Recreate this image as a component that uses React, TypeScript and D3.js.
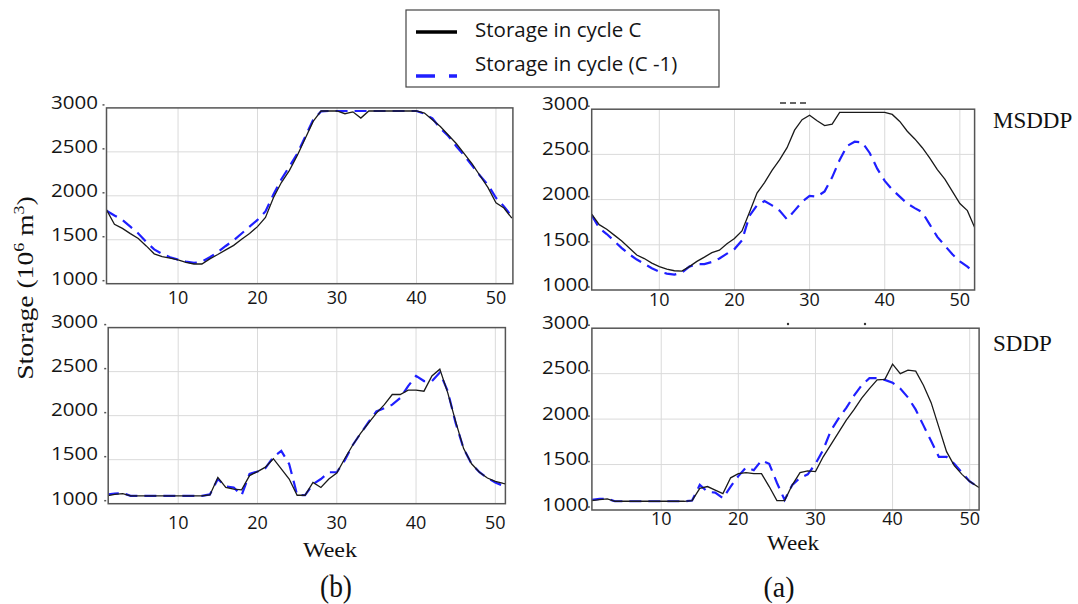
import React from "react";
import * as d3 from "d3";

// weeks of the year on the x axis
const weeks = d3.range(1, 53);
const yTickValues = [1000, 1500, 2000, 2500, 3000];
const xTickValues = [10, 20, 30, 40, 50];
const seriesNames = ["Storage in cycle C", "Storage in cycle (C -1)"];

// (b) MSDDP
const bMsddpCycle = [
  1840, 1676, 1629, 1570, 1514, 1430, 1340, 1309, 1290, 1270,
  1243, 1224, 1224, 1282, 1332, 1385, 1436, 1505, 1571, 1649,
  1753, 1977, 2151, 2286, 2459, 2653, 2846, 2965, 2965, 2965,
  2934, 2955, 2884, 2965, 2965, 2965, 2965, 2965, 2965, 2965,
  2942, 2865, 2788, 2691, 2595, 2479, 2363, 2228, 2093, 1919,
  1861, 1745,
];
const bMsddpPrev = [
  1830, 1776, 1726, 1649, 1571, 1475, 1390, 1340, 1301, 1274,
  1251, 1236, 1251, 1301, 1359, 1429, 1494, 1571, 1649, 1726,
  1822, 2015, 2189, 2332, 2479, 2672, 2865, 2961, 2965, 2965,
  2965, 2965, 2965, 2965, 2965, 2965, 2965, 2965, 2965, 2965,
  2934, 2880, 2768, 2680, 2564, 2459, 2344, 2228, 2124, 1977,
  1880, 1764,
];

// (a) MSDDP
const aMsddpCycle = [
  1840, 1723, 1673, 1607, 1542, 1464, 1387, 1348, 1298, 1259,
  1232, 1213, 1209, 1259, 1317, 1364, 1414, 1441, 1511, 1569,
  1654, 1859, 2072, 2188, 2323, 2439, 2574, 2768, 2884, 2934,
  2872, 2818, 2834, 2965, 2965, 2965, 2965, 2965, 2965, 2965,
  2942, 2865, 2756, 2671, 2574, 2458, 2331, 2226, 2091, 1956,
  1878, 1685,
];
const aMsddpPrev = [
  1828, 1685, 1619, 1542, 1464, 1395, 1337, 1290, 1240, 1201,
  1182, 1170, 1193, 1259, 1286, 1286, 1310, 1348, 1402, 1453,
  1549, 1820, 1936, 1983, 1936, 1878, 1781, 1878, 1975, 2041,
  2033, 2091, 2246, 2439, 2594, 2640, 2632, 2516, 2342, 2207,
  2110, 2033, 1956, 1906, 1859, 1723, 1588, 1491, 1395, 1317,
  1259, 1182,
];

// (b) SDDP
const bSddpCycle = [
  1090, 1105, 1115, 1090, 1090, 1090, 1090, 1090, 1090, 1090,
  1090, 1090, 1090, 1100, 1299, 1184, 1165, 1157, 1319, 1365,
  1415, 1511, 1395, 1280, 1096, 1096, 1242, 1184, 1280, 1349,
  1511, 1664, 1798, 1914, 2029, 2125, 2240, 2240, 2290, 2290,
  2278, 2451, 2528, 2259, 1933, 1626, 1453, 1357, 1292, 1253,
  1230, 1211,
];
const bSddpPrev = [
  1105, 1115, 1120, 1090, 1090, 1090, 1090, 1090, 1090, 1090,
  1090, 1090, 1090, 1105, 1280, 1196, 1184, 1096, 1338, 1365,
  1403, 1530, 1600, 1450, 1100, 1096, 1223, 1280, 1357, 1357,
  1492, 1664, 1798, 1925, 2048, 2086, 2125, 2200, 2336, 2451,
  2393, 2393, 2489, 2278, 1914, 1626, 1453, 1357, 1292, 1242,
  1203, 1173,
];

// (a) SDDP
const aSddpCycle = [
  1104, 1115, 1123, 1096, 1096, 1096, 1096, 1096, 1096, 1096,
  1096, 1096, 1096, 1104, 1238, 1258, 1219, 1181, 1354, 1400,
  1412, 1400, 1400, 1258, 1104, 1104, 1277, 1412, 1431, 1423,
  1585, 1719, 1854, 1988, 2104, 2231, 2335, 2431, 2438, 2604,
  2500, 2538, 2527, 2373, 2181, 1912, 1642, 1488, 1392, 1315,
  1258, 1208,
];
const aSddpPrev = [
  1112, 1123, 1123, 1096, 1096, 1096, 1096, 1096, 1096, 1096,
  1096, 1096, 1096, 1104, 1277, 1200, 1192, 1131, 1258, 1373,
  1469, 1438, 1546, 1508, 1300, 1110, 1277, 1354, 1392, 1508,
  1662, 1873, 2008, 2123, 2258, 2373, 2450, 2450, 2431, 2400,
  2335, 2238, 2104, 1931, 1758, 1585, 1585, 1508, 1412, 1315,
  1258, 1208,
];

const panels = [
  { id: "bm", cycle: bMsddpCycle, prev: bMsddpPrev, xDomain: [1, 52.13], xRange: [106.5, 512.9], yRange: [283.7, 107.9], labelRight: 98, xLabelY: 304 },
  { id: "am", cycle: aMsddpCycle, prev: aMsddpPrev, xDomain: [1, 51.96], xRange: [591.7, 974.6], yRange: [290, 109.2], labelRight: 589, xLabelY: 306 },
  { id: "bs", cycle: bSddpCycle, prev: bSddpPrev, xDomain: [1.17, 51.27], xRange: [108.2, 505.4], yRange: [503.7, 327.6], labelRight: 98, xLabelY: 529 },
  { id: "as", cycle: aSddpCycle, prev: aSddpPrev, xDomain: [1.01, 51.22], xRange: [591.9, 979.1], yRange: [510, 328.2], labelRight: 589, xLabelY: 525 },
];

const tickFont = "'Open Sans', sans-serif";
const serif = "'Liberation Serif', 'Times New Roman', serif";

function Panel({ p }) {
  const x = d3.scaleLinear().domain(p.xDomain).range(p.xRange);
  const y = d3.scaleLinear().domain([1000, 3000]).range(p.yRange);
  const line = d3
    .line<number>()
    .x((_, i) => x(weeks[i]))
    .y((v) => y(v));
  const [x0, x1] = p.xRange;
  const [yb, yt] = p.yRange;

  return (
    <g>
      <defs>
        <clipPath id={`clip-${p.id}`}>
          <rect x={x0} y={yt} width={x1 - x0} height={yb - yt} />
        </clipPath>
      </defs>
      {/* grid */}
      {xTickValues.map((t) => (
        <line key={`gx${t}`} x1={x(t)} x2={x(t)} y1={yt} y2={yb} stroke="#dadada" strokeWidth={1} />
      ))}
      {yTickValues.slice(1, -1).map((t) => (
        <line key={`gy${t}`} x1={x0} x2={x1} y1={y(t)} y2={y(t)} stroke="#dadada" strokeWidth={1} />
      ))}
      <g clipPath={`url(#clip-${p.id})`}>
        <path d={line(p.prev) || ""} fill="none" stroke="#1f1fff" strokeWidth={2.2} strokeDasharray="12,7" />
        <path d={line(p.cycle) || ""} fill="none" stroke="#1a1a1a" strokeWidth={1.3} />
      </g>
      <rect x={x0} y={yt} width={x1 - x0} height={yb - yt} fill="none" stroke="#555" strokeWidth={1.5} />
      {/* y ticks */}
      {yTickValues.map((t) => (
        <g key={`ty${t}`}>
          <line x1={x0 - 4} x2={x0 - 2} y1={y(t) - 3} y2={y(t) - 3} stroke="#555" strokeWidth={1.5} />
          <text
            x={p.labelRight}
            y={y(t) - 4}
            textAnchor="end"
            dominantBaseline="middle"
            fontFamily={tickFont}
            fontSize={18}
            fill="#151515"
            textLength={47}
            lengthAdjust="spacingAndGlyphs"
          >
            {t}
          </text>
        </g>
      ))}
      {/* x ticks */}
      {xTickValues.map((t) => (
        <text
          key={`tx${t}`}
          x={x(t)}
          y={p.xLabelY}
          textAnchor="middle"
          fontFamily={tickFont}
          fontSize={18}
          fill="#151515"
        >
          {t}
        </text>
      ))}
    </g>
  );
}

export default function App() {
  return (
    <svg width={1078} height={604} style={{ position: "absolute", left: 0, top: 0, background: "#fff" }}>
      <rect width={1078} height={604} fill="#fff" />
      {/* legend */}
      <rect x={406} y={10} width={313} height={77} fill="#fff" stroke="#444" strokeWidth={1.2} />
      <line x1={416} x2={457} y1={32} y2={32} stroke="#000" strokeWidth={3.5} />
      <text x={475} y={32} dominantBaseline="middle" fontFamily={tickFont} fontSize={20.5} fill="#151515">
        {seriesNames[0]}
      </text>
      <line x1={416} x2={457} y1={76} y2={76} stroke="#1f1fff" strokeWidth={3.5} strokeDasharray="19,14" />
      <text x={475} y={66} dominantBaseline="middle" fontFamily={tickFont} fontSize={20.5} fill="#151515">
        {seriesNames[1]}
      </text>

      {panels.map((p) => (
        <Panel key={p.id} p={p} />
      ))}

      {/* small marks on the original figure */}
      <line x1={780} x2={810} y1={103} y2={103} stroke="#333" strokeWidth={1.5} strokeDasharray="6,4" />
      <circle cx={788} cy={324} r={1.2} fill="#333" />
      <circle cx={865} cy={324} r={1.2} fill="#333" />

      {/* method labels */}
      <text x={993} y={128} fontFamily={serif} fontSize={23} fill="#111">MSDDP</text>
      <text x={993} y={351} fontFamily={serif} fontSize={23} fill="#111">SDDP</text>

      {/* y axis label */}
      <text
        transform="translate(33,288) rotate(-90) scale(1.2,1)"
        textAnchor="middle"
        fontFamily={serif}
        fontSize={23}
        fill="#111"
      >
        Storage (10
        <tspan fontSize={15} dy={-9}>6</tspan>
        <tspan dy={9}> m</tspan>
        <tspan fontSize={15} dy={-9}>3</tspan>
        <tspan dy={9}>)</tspan>
      </text>

      {/* x axis labels */}
      <text x={330} y={557} textAnchor="middle" fontFamily={serif} fontSize={21} fill="#111" textLength={54} lengthAdjust="spacingAndGlyphs">Week</text>
      <text x={793} y={550} textAnchor="middle" fontFamily={serif} fontSize={21} fill="#111" textLength={52} lengthAdjust="spacingAndGlyphs">Week</text>
      <text x={336} y={597} textAnchor="middle" fontFamily={serif} fontSize={32} fill="#111" textLength={32} lengthAdjust="spacingAndGlyphs">(b)</text>
      <text x={779} y={597} textAnchor="middle" fontFamily={serif} fontSize={30} fill="#111" textLength={31} lengthAdjust="spacingAndGlyphs">(a)</text>
    </svg>
  );
}
